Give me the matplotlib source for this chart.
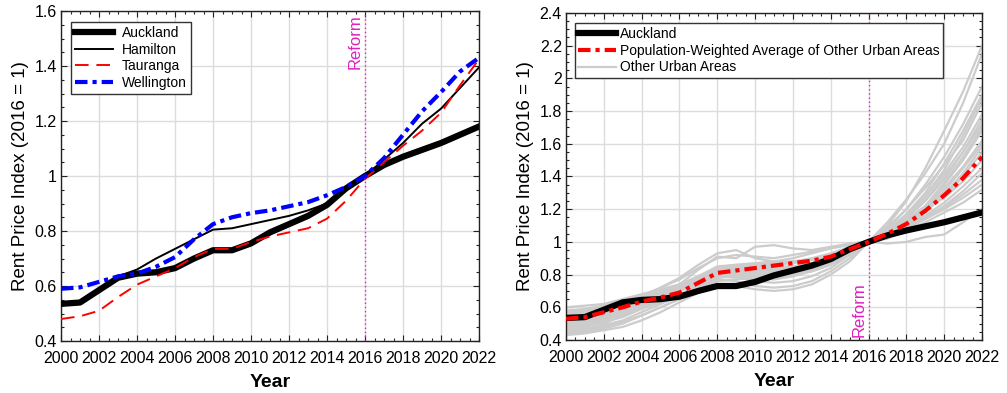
import numpy as np
import matplotlib
matplotlib.use("Agg")
import matplotlib.pyplot as plt
from matplotlib.ticker import MultipleLocator

plt.rcParams['font.family'] = ['Liberation Sans', 'DejaVu Sans']

# ── data ──
years = list(range(2000, 2023))

auckland = [0.535, 0.54, 0.585, 0.63, 0.645, 0.65, 0.665, 0.70, 0.73, 0.73, 0.755, 0.795,
            0.825, 0.855, 0.895, 0.955, 1.00, 1.04, 1.07, 1.095, 1.12, 1.15, 1.18]
hamilton = [0.53, 0.535, 0.59, 0.635, 0.66, 0.70, 0.735, 0.77, 0.805, 0.81, 0.825, 0.84,
            0.855, 0.875, 0.90, 0.955, 1.00, 1.06, 1.12, 1.19, 1.245, 1.32, 1.395]
tauranga = [0.48, 0.49, 0.51, 0.56, 0.605, 0.635, 0.665, 0.705, 0.735, 0.735, 0.76, 0.78,
            0.795, 0.81, 0.845, 0.91, 0.99, 1.05, 1.11, 1.165, 1.23, 1.33, 1.425]
wellington = [0.59, 0.595, 0.615, 0.635, 0.645, 0.67, 0.705, 0.77, 0.825, 0.85, 0.865, 0.875,
              0.89, 0.905, 0.93, 0.96, 1.00, 1.065, 1.15, 1.235, 1.305, 1.38, 1.43]

weighted_avg = [0.53, 0.54, 0.57, 0.60, 0.635, 0.66, 0.69, 0.75, 0.81, 0.825, 0.84, 0.855,
                0.87, 0.885, 0.91, 0.955, 1.00, 1.05, 1.11, 1.19, 1.285, 1.39, 1.52]

other_urban = [
    [0.50, 0.52, 0.55, 0.60, 0.66, 0.72, 0.78, 0.86, 0.93, 0.95, 0.90, 0.88, 0.90, 0.93, 0.96, 0.98, 1.00, 1.10, 1.25, 1.45, 1.68, 1.92, 2.20],
    [0.45, 0.46, 0.50, 0.55, 0.61, 0.67, 0.74, 0.83, 0.91, 0.90, 0.97, 0.98, 0.96, 0.95, 0.97, 0.99, 1.00, 1.12, 1.26, 1.42, 1.60, 1.85, 2.15],
    [0.55, 0.57, 0.60, 0.63, 0.67, 0.72, 0.77, 0.84, 0.90, 0.92, 0.91, 0.90, 0.92, 0.94, 0.96, 0.99, 1.00, 1.08, 1.20, 1.35, 1.52, 1.72, 1.95],
    [0.48, 0.49, 0.52, 0.56, 0.61, 0.66, 0.72, 0.78, 0.84, 0.86, 0.87, 0.88, 0.88, 0.90, 0.93, 0.97, 1.00, 1.07, 1.17, 1.30, 1.48, 1.68, 1.90],
    [0.52, 0.53, 0.56, 0.60, 0.64, 0.69, 0.73, 0.79, 0.85, 0.86, 0.85, 0.86, 0.87, 0.89, 0.91, 0.95, 1.00, 1.06, 1.15, 1.28, 1.44, 1.65, 1.88],
    [0.44, 0.45, 0.47, 0.50, 0.55, 0.60, 0.65, 0.72, 0.80, 0.82, 0.80, 0.80, 0.82, 0.85, 0.89, 0.95, 1.00, 1.09, 1.20, 1.33, 1.47, 1.62, 1.85],
    [0.58, 0.59, 0.61, 0.64, 0.67, 0.70, 0.74, 0.79, 0.84, 0.83, 0.82, 0.82, 0.84, 0.86, 0.89, 0.94, 1.00, 1.05, 1.14, 1.25, 1.38, 1.55, 1.75],
    [0.46, 0.47, 0.49, 0.52, 0.57, 0.62, 0.67, 0.74, 0.80, 0.79, 0.76, 0.75, 0.76, 0.79, 0.84, 0.92, 1.00, 1.07, 1.15, 1.26, 1.40, 1.55, 1.72],
    [0.50, 0.51, 0.53, 0.57, 0.62, 0.66, 0.70, 0.75, 0.80, 0.81, 0.81, 0.80, 0.81, 0.84, 0.88, 0.94, 1.00, 1.06, 1.13, 1.22, 1.35, 1.50, 1.68],
    [0.53, 0.54, 0.57, 0.61, 0.64, 0.68, 0.72, 0.77, 0.82, 0.84, 0.84, 0.85, 0.85, 0.87, 0.90, 0.95, 1.00, 1.05, 1.12, 1.21, 1.33, 1.46, 1.62],
    [0.47, 0.48, 0.51, 0.54, 0.59, 0.63, 0.67, 0.72, 0.77, 0.76, 0.73, 0.72, 0.73, 0.76, 0.82, 0.90, 1.00, 1.06, 1.12, 1.20, 1.31, 1.45, 1.60],
    [0.56, 0.57, 0.59, 0.62, 0.65, 0.68, 0.71, 0.76, 0.80, 0.80, 0.78, 0.77, 0.79, 0.82, 0.86, 0.92, 1.00, 1.04, 1.10, 1.18, 1.29, 1.42, 1.58],
    [0.49, 0.50, 0.52, 0.55, 0.60, 0.65, 0.70, 0.76, 0.82, 0.83, 0.82, 0.83, 0.84, 0.86, 0.89, 0.94, 1.00, 1.05, 1.11, 1.19, 1.28, 1.40, 1.55],
    [0.43, 0.44, 0.46, 0.48, 0.52, 0.57, 0.63, 0.69, 0.74, 0.73, 0.71, 0.70, 0.71, 0.74, 0.80, 0.88, 1.00, 1.06, 1.13, 1.20, 1.27, 1.37, 1.50],
    [0.54, 0.55, 0.58, 0.62, 0.66, 0.70, 0.73, 0.78, 0.83, 0.85, 0.86, 0.87, 0.88, 0.89, 0.91, 0.95, 1.00, 1.04, 1.10, 1.16, 1.24, 1.34, 1.45],
    [0.51, 0.52, 0.54, 0.58, 0.62, 0.66, 0.70, 0.75, 0.79, 0.78, 0.77, 0.78, 0.80, 0.83, 0.87, 0.93, 1.00, 1.05, 1.10, 1.15, 1.22, 1.31, 1.42],
    [0.60, 0.61, 0.62, 0.65, 0.68, 0.71, 0.74, 0.78, 0.82, 0.82, 0.81, 0.81, 0.82, 0.84, 0.87, 0.92, 1.00, 1.03, 1.08, 1.14, 1.21, 1.29, 1.38],
    [0.45, 0.46, 0.48, 0.51, 0.55, 0.60, 0.65, 0.71, 0.76, 0.77, 0.78, 0.79, 0.80, 0.82, 0.86, 0.92, 1.00, 1.05, 1.09, 1.14, 1.20, 1.27, 1.35],
    [0.57, 0.58, 0.60, 0.63, 0.66, 0.69, 0.72, 0.76, 0.80, 0.81, 0.82, 0.83, 0.84, 0.85, 0.88, 0.93, 1.00, 1.02, 1.07, 1.12, 1.18, 1.24, 1.32],
    [0.52, 0.53, 0.55, 0.59, 0.63, 0.67, 0.71, 0.76, 0.81, 0.80, 0.79, 0.80, 0.81, 0.83, 0.87, 0.93, 1.00, 0.99, 1.00, 1.03, 1.045, 1.12, 1.20],
    [0.48, 0.49, 0.51, 0.55, 0.60, 0.64, 0.68, 0.73, 0.78, 0.79, 0.80, 0.81, 0.82, 0.84, 0.88, 0.94, 1.00, 1.04, 1.12, 1.22, 1.36, 1.52, 1.70],
    [0.55, 0.56, 0.58, 0.61, 0.64, 0.67, 0.71, 0.76, 0.82, 0.83, 0.83, 0.84, 0.85, 0.86, 0.89, 0.94, 1.00, 1.06, 1.16, 1.28, 1.42, 1.58, 1.78],
]

reform_year = 2016
xticks = list(range(2000, 2023, 2))

# ── figure ──
fig = plt.figure(figsize=(10.07, 3.93), dpi=100)
ax1 = fig.add_axes([0.0606, 0.1323, 0.4151, 0.8397])
ax2 = fig.add_axes([0.5621, 0.1349, 0.4131, 0.8321])

MAGENTA = "#E020C0"


def style_axis(ax, ylim, ymajor):
    ax.set_xlim(2000, 2022)
    ax.set_ylim(*ylim)
    ax.set_xticks(xticks)
    ax.xaxis.set_minor_locator(MultipleLocator(0.5))
    ax.yaxis.set_major_locator(MultipleLocator(ymajor))
    ax.yaxis.set_minor_locator(MultipleLocator(0.05))
    ax.yaxis.set_major_formatter(plt.FuncFormatter(lambda v, p: f"{v:g}"))
    ax.tick_params(which="both", direction="in", top=True, right=True, colors="#222222",
                   labelcolor="black")
    ax.tick_params(which="major", length=4, width=0.8, labelsize=11.5)
    ax.tick_params(which="minor", length=2.5, width=0.8)
    ax.tick_params(axis="x", pad=7)
    ax.tick_params(axis="y", pad=3)
    ax.grid(True, which="major", color="#DCDCDC", linewidth=1.0)
    ax.set_axisbelow(True)
    for sp in ax.spines.values():
        sp.set_linewidth(1.0)
        sp.set_color("#222222")
    ax.set_xlabel("Year", fontsize=14, fontweight="bold", labelpad=6)
    ax.set_ylabel("Rent Price Index (2016 = 1)", fontsize=13.5, labelpad=4)
    ax.axvline(reform_year, color=MAGENTA, linestyle=(0, (1, 2)), linewidth=1.0, zorder=1)


def style_legend(leg):
    fr = leg.get_frame()
    fr.set_edgecolor("#333333")
    fr.set_linewidth(1.0)
    fr.set_alpha(1)


# 左圖
style_axis(ax1, (0.4, 1.6), 0.2)
ax1.plot(years, auckland, color="black", linewidth=4.5, label="Auckland", zorder=3)
ax1.plot(years, hamilton, color="black", linewidth=1.4, label="Hamilton", zorder=4)
ax1.plot(years, tauranga, color="red", linewidth=1.4, linestyle=(0, (7, 4)),
         label="Tauranga", zorder=4)
ax1.plot(years, wellington, color="blue", linewidth=3.0, linestyle=(0, (3, 1.2, 1, 1.2)),
         label="Wellington", zorder=5)
ax1.text(reform_year - 0.12, 1.59, "Reform", rotation=90, color=MAGENTA,
         fontsize=12, ha="right", va="top")
leg1 = ax1.legend(loc="upper left", fontsize=10, frameon=True, fancybox=False,
                  borderpad=0.3, labelspacing=0.18, handlelength=2.7, handletextpad=0.65,
                  borderaxespad=0, bbox_to_anchor=(0.024, 0.967))
style_legend(leg1)

# 右圖
style_axis(ax2, (0.4, 2.4), 0.2)
for i, s in enumerate(other_urban):
    ax2.plot(years, s, color="#CCCCCC", linewidth=1.6,
             label="Other Urban Areas" if i == 0 else None, zorder=2)
ax2.plot(years, auckland, color="black", linewidth=4.5, label="Auckland", zorder=4)
ax2.plot(years, weighted_avg, color="red", linewidth=3.0,
         linestyle=(0, (3, 1.2, 1, 1.2)),
         label="Population-Weighted Average of Other Urban Areas", zorder=5)
ax2.text(reform_year - 0.12, 0.42, "Reform", rotation=90, color=MAGENTA,
         fontsize=12, ha="right", va="bottom")
h, l = ax2.get_legend_handles_labels()
order = [1, 2, 0]
leg2 = ax2.legend([h[i] for i in order], [l[i] for i in order], loc="upper left",
                  fontsize=10, frameon=True, fancybox=False, borderpad=0.25,
                  labelspacing=0.2, handlelength=2.7, handletextpad=0.3,
                  borderaxespad=0, bbox_to_anchor=(0.021, 0.968))
style_legend(leg2)

fig.savefig("out.png", dpi=100)
